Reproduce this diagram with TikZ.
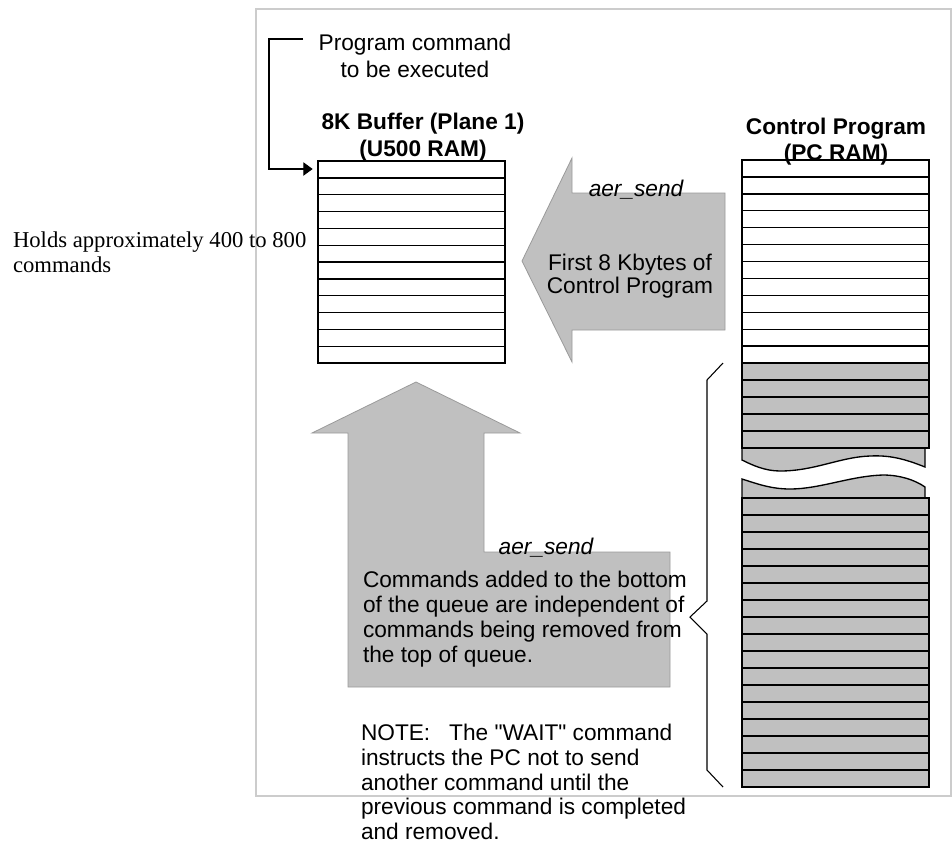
\documentclass[tikz,border=0pt]{standalone}
\usepackage{fontspec}
\setmainfont{Liberation Sans}[Ligatures=TeXOff]
\newfontfamily\serifface{Liberation Serif}
\usetikzlibrary{arrows.meta}

\definecolor{panelgray}{HTML}{C0C0C0}
\definecolor{edgegray}{HTML}{9A9A9A}
\definecolor{framegray}{HTML}{CCCCCC}

\begin{document}
\begin{tikzpicture}[x=0.75pt,y=-0.75pt,
  txt/.style={inner sep=0pt, outer sep=0pt},
  fsize/.style={font=\fontsize{17}{#1}\selectfont},
  boldsize/.style={font=\fontsize{17}{#1}\selectfont\bfseries},
  italsize/.style={font=\fontsize{17}{#1}\selectfont\itshape},
  frameline/.style={draw=framegray, line width=0.9pt},
  rowline/.style={draw=black, line width=1pt},
  grayrow/.style={rowline, fill=panelgray},
  blockarrow/.style={fill=panelgray, draw=edgegray, line width=0.6pt},
  thinline/.style={draw=black, line width=0.8pt},
]
\useasboundingbox (0,0) rectangle (952,844);
\fill[white] (0,0) rectangle (952,844);

% outer frame
\draw[frameline] (256,9) rectangle (951,796);

% ---------- 8K buffer (12 slots) ----------
\coordinate (bufNW) at (318,161);
\coordinate (bufSE) at (505,363);
\foreach \i in {0,...,11}
  \draw[rowline] (318,{161+\i*202/12}) rectangle (505,{161+(\i+1)*202/12});
\coordinate (slotone) at (318,169);

% ---------- control program in PC RAM ----------
\foreach \i in {0,...,11}
  \draw[rowline] (742,{160+\i*203/12}) rectangle (929,{160+(\i+1)*203/12});
\foreach \i in {0,...,4}
  \draw[grayrow] (742,{363+17*\i}) rectangle (929,{380+17*\i});
% torn upper piece
\draw[grayrow] (742,448) -- (925,448) -- (925,467)
  .. controls (905,459) and (890,455) .. (870,456)
  .. controls (840,457) and (815,471) .. (780,471)
  .. controls (765,471) and (752,465) .. (742,460) -- cycle;
\draw[rowline] (742,448) -- (929,448);
% torn lower piece
\draw[grayrow] (742,479)
  .. controls (755,483) and (770,489) .. (790,489)
  .. controls (820,489) and (850,476) .. (883,475)
  .. controls (900,475) and (915,480) .. (925,487)
  -- (925,498) -- (742,498) -- cycle;
\foreach \i in {0,...,16}
  \draw[grayrow] (742,{498+17*\i}) rectangle (929,{515+17*\i});

% brace grouping the queued commands
\coordinate (braceTop) at (723,363);
\coordinate (braceTip) at (690,617);
\coordinate (braceBot) at (723,787);
\draw[thinline] (braceTop) -- (707,380) -- (707,601) -- (braceTip)
  -- (707,634) -- (707,770) -- (braceBot);

% ---------- transfer arrows ----------
\draw[blockarrow] (522,261) -- (572,158) -- (572,193) -- (725,193)
  -- (725,330) -- (572,330) -- (572,362) -- cycle;
\draw[blockarrow] (416,382) -- (520,433) -- (484,433) -- (484,552)
  -- (670,552) -- (670,687) -- (348,687) -- (348,433) -- (312,433) -- cycle;

% ---------- pointer to the executing command ----------
\coordinate (ptrStart) at (303,39);
\draw[thinline, -{Triangle[length=7pt,width=10pt]}, shorten >=4pt]
  (ptrStart) -- (269,39) -- (269,169) -- (slotone);

% ---------- labels ----------
\node[txt, fsize=20.25, align=center, anchor=north] (ptrlabel) at (415,34)
  {Program command\\to be executed};
\node[txt, boldsize=20.25, align=center, anchor=north] (buftitle) at (423,113.5)
  {8K Buffer (Plane 1)\\(U500 RAM)};
\node[txt, boldsize=19.5, align=center, anchor=north] (pctitle) at (836,118.5)
  {Control Program\\(PC RAM)};
\node[txt, italsize=20, anchor=base] (sendA) at (636,196) {aer\_send};
\node[txt, fsize=15.75, align=center, anchor=north] (firstlabel) at (630,254.5)
  {First 8 Kbytes of\\Control Program};
\node[txt, italsize=20, anchor=base] (sendB) at (546,554) {aer\_send};
\node[txt, fsize=18.75, align=left, anchor=north west] (queuenote) at (363,571.5)
  {Commands added to the bottom\\of the queue are independent of\\commands being removed from\\the top of queue.};
\node[txt, fsize=18.5, align=left, anchor=north west] (waitnote) at (361,724.5)
  {NOTE:\ \ \ The "WAIT" command\\instructs the PC not to send\\another command until the\\previous command is completed\\and removed.};
\node[txt, align=left, anchor=north west, font=\serifface\fontsize{17}{18.75}\selectfont] (capacity) at (13,231.5)
  {Holds approximately 400 to 800\\commands};
\end{tikzpicture}
\end{document}
